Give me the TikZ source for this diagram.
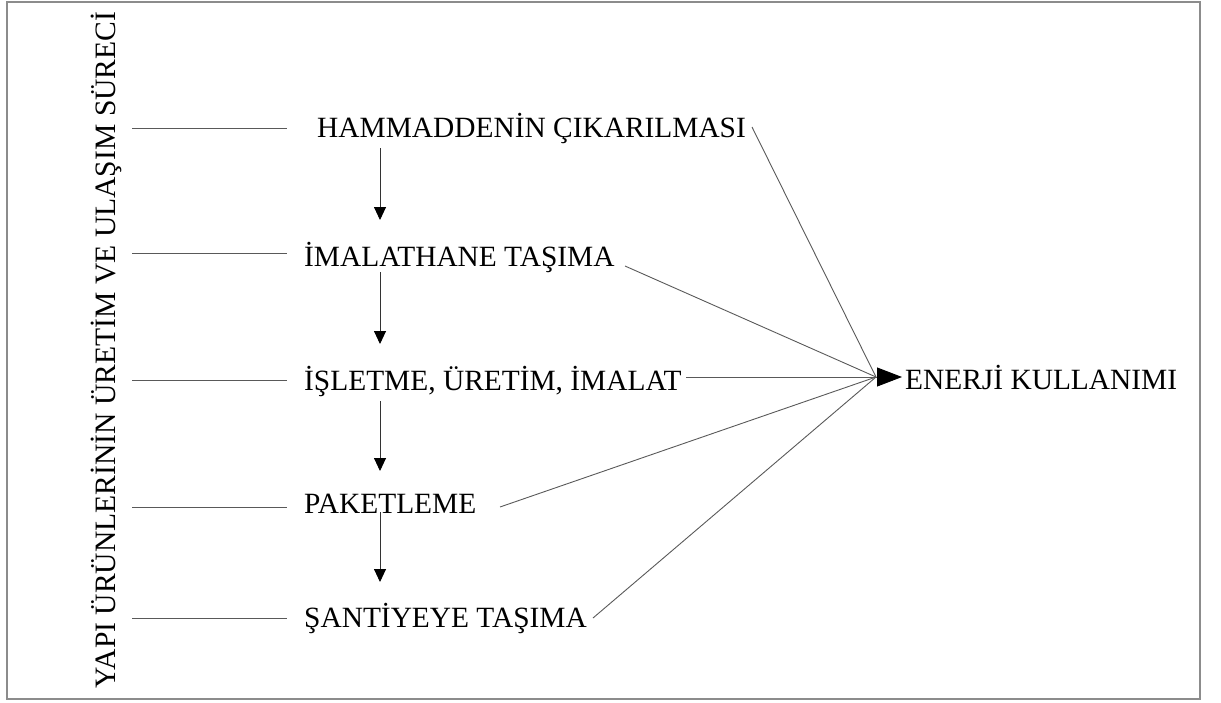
\documentclass[tikz,border=0pt]{standalone}
\usepackage{fontspec}
\setmainfont{Liberation Serif}
\usetikzlibrary{arrows.meta}
\begin{document}
\begin{tikzpicture}[x=1pt,y=-1pt,
  lbl/.style={font=\fontsize{29.4}{34}\selectfont, inner sep=0pt, anchor=base west},
  ln/.style={draw=black!65, line width=0.9pt},
  downarr/.style={ln, draw=black!80, -{Triangle[length=13pt,width=12pt,fill=black,color=black]}},
  bigarr/.style={ln, -{Triangle[length=25pt,width=19pt,fill=black,color=black]}}]
\useasboundingbox (0,0) rectangle (1221,702);
\draw[black!45, line width=1.4pt] (7,2) rectangle (1200,699);
% vertical title
\node[font=\fontsize{29.6}{34}\selectfont, rotate=90, inner sep=0pt] (title) at (106,350) {YAPI ÜRÜNLERİNİN ÜRETİM VE ULAŞIM SÜRECİ};
% step labels
\node[lbl] (ham) at (317,137) {HAMMADDENİN ÇIKARILMASI};
\node[lbl] (ima) at (304,266) {İMALATHANE TAŞIMA};
\node[lbl] (isl) at (304,390) {İŞLETME, ÜRETİM, İMALAT};
\node[lbl] (pak) at (304,513) {PAKETLEME};
\node[lbl] (san) at (304,627) {ŞANTİYEYE TAŞIMA};
\node[lbl] (en) at (905,389) {ENERJİ KULLANIMI};
% left tick lines
\foreach \i/\y in {1/128,2/253,3/380,4/507,5/618}{
  \coordinate (la\i) at (132,\y);
  \coordinate (lb\i) at (287,\y);
  \draw[ln] (la\i) -- (lb\i);
}
% vertical arrows
\coordinate (d1a) at (380,148); \coordinate (d1b) at (380,220);
\coordinate (d2a) at (380,272); \coordinate (d2b) at (380,344);
\coordinate (d3a) at (380,401); \coordinate (d3b) at (380,471);
\coordinate (d4a) at (380,512); \coordinate (d4b) at (380,582);
\draw[downarr] (d1a) -- (d1b);
\draw[downarr] (d2a) -- (d2b);
\draw[downarr] (d3a) -- (d3b);
\draw[downarr] (d4a) -- (d4b);
% converging lines
\coordinate (conv) at (876,377);
\coordinate (tip) at (902,377);
\coordinate (s1) at (752,127);
\coordinate (s2) at (625,266);
\coordinate (s3) at (686,377);
\coordinate (s4) at (500,507);
\coordinate (s5) at (593,618);
\draw[ln] (s1) -- (conv);
\draw[ln] (s2) -- (conv);
\draw[ln] (s4) -- (conv);
\draw[ln] (s5) -- (conv);
\draw[bigarr] (s3) -- (tip);
\end{tikzpicture}
\end{document}
